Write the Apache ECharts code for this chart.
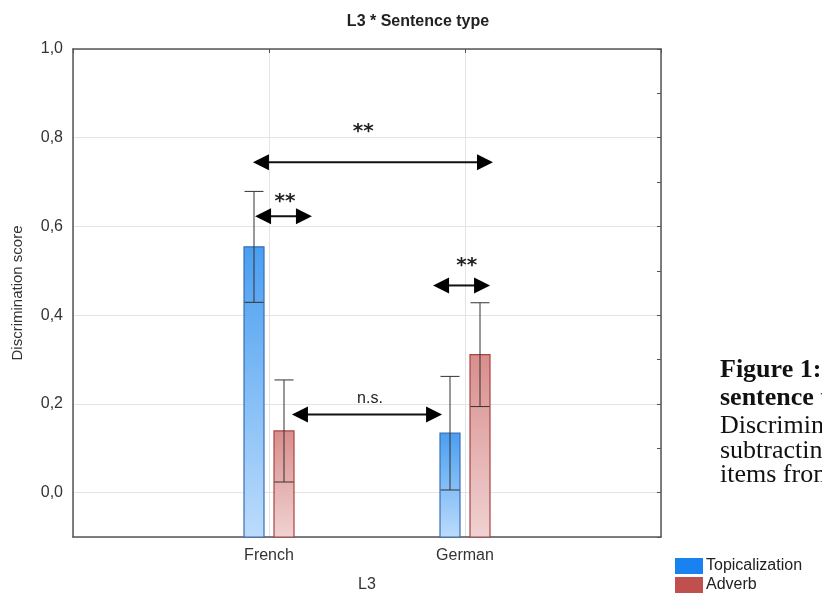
<!DOCTYPE html>
<html>
<head>
<meta charset="utf-8">
<script src="https://cdn.jsdelivr.net/npm/echarts@6/dist/echarts.min.js"></script>
<style>
  html, body { margin: 0; padding: 0; background: #fff; }
  #chart { width: 822px; height: 594px; }
</style>
</head>
<body>
<div id="chart"></div>
<script>
// categories and their x positions on the value axis (0..3)
var groups = ['French', 'German'];
var groupPos = [1, 2];

// means and error bar half widths
var topicMean = [0.554, 0.134];
var topicErr = [0.125, 0.128];
var adverbMean = [0.139, 0.311];
var adverbErr = [0.115, 0.117];

// significance arrows (x from, x to, y) and their labels
var arrowFrom = [0.918, 0.929, 1.117, 1.837];
var arrowTo = [2.143, 1.219, 1.883, 2.128];
var arrowY = [0.745, 0.623, 0.176, 0.467];
var labelX = [1.481, 1.082, 1.515, 2.009];
var labelY = [0.813, 0.655, 0.212, 0.512];
var labelText = ['**', '**', 'n.s.', '**'];

var yMin = -0.1;
var yMax = 1.0;

var chart = echarts.init(document.getElementById('chart'));

function barSeries(name, means, errs, offset, colTop, colBottom, border, legendColor) {
  var data = [];
  for (var i = 0; i < groups.length; i++) {
    data.push([groupPos[i], means[i], errs[i]]);
  }
  return {
    name: name,
    type: 'custom',
    itemStyle: { color: legendColor },
    data: data,
    renderItem: function (params, api) {
      var x = api.value(0);
      var m = api.value(1);
      var e = api.value(2);
      var top = api.coord([x, m]);
      var base = api.coord([x, yMin]);
      var hi = api.coord([x, m + e]);
      var lo = api.coord([x, m - e]);
      var cx = top[0] + offset;
      var w = 20;
      return {
        type: 'group',
        children: [
          {
            type: 'rect',
            shape: { x: cx - w / 2, y: top[1], width: w, height: base[1] - top[1] },
            style: {
              fill: new echarts.graphic.LinearGradient(0, 0, 0, 1, [
                { offset: 0, color: colTop },
                { offset: 1, color: colBottom }
              ]),
              stroke: border,
              lineWidth: 1.2
            }
          },
          { type: 'line', shape: { x1: cx, y1: hi[1], x2: cx, y2: lo[1] }, style: { stroke: '#333', lineWidth: 1 } },
          { type: 'line', shape: { x1: cx - 9.5, y1: hi[1], x2: cx + 9.5, y2: hi[1] }, style: { stroke: '#333', lineWidth: 1 } },
          { type: 'line', shape: { x1: cx - 9.5, y1: lo[1], x2: cx + 9.5, y2: lo[1] }, style: { stroke: '#333', lineWidth: 1 } }
        ]
      };
    }
  };
}

var arrowData = [];
for (var i = 0; i < arrowFrom.length; i++) {
  arrowData.push([arrowFrom[i], arrowTo[i], arrowY[i]]);
}
var labelData = [];
for (var j = 0; j < labelText.length; j++) {
  labelData.push([labelX[j], labelY[j], labelText[j]]);
}

var captionFont = '26px "Liberation Serif"';
var captionBold = 'bold 26px "Liberation Serif"';

var option = {
  animation: false,
  backgroundColor: '#fff',
  title: {
    text: 'L3 * Sentence type',
    left: 413,
    top: 9,
    textAlign: 'center',
    textStyle: { fontFamily: 'Liberation Sans', fontSize: 16, fontWeight: 'bold', color: '#222' }
  },
  legend: {
    data: ['Topicalization', 'Adverb'],
    orient: 'vertical',
    left: 675,
    top: 558,
    padding: 0,
    itemWidth: 28,
    itemHeight: 16,
    itemGap: 3,
    icon: 'rect',
    textStyle: { fontFamily: 'Liberation Sans', fontSize: 16, color: '#222', padding: [0, 0, 0, -2] }
  },
  grid: { left: 73, right: 161, top: 49, bottom: 57, outerBoundsMode: 'none' },
  xAxis: [
    {
      type: 'value',
      min: 0,
      max: 3,
      interval: 1,
      name: 'L3',
      nameLocation: 'middle',
      nameGap: 40,
      nameTextStyle: { fontFamily: 'Liberation Sans', fontSize: 16, color: '#333' },
      axisLine: { show: true, onZero: false, lineStyle: { color: '#555', width: 1.5 } },
      axisTick: { show: false },
      axisLabel: {
        margin: 11,
        fontFamily: 'Liberation Sans',
        fontSize: 16,
        color: '#333',
        formatter: function (v) {
          var k = groupPos.indexOf(v);
          return k >= 0 ? groups[k] : '';
        }
      },
      splitLine: { show: true, lineStyle: { color: '#e4e4e4' } }
    },
    {
      type: 'value',
      position: 'top',
      min: 0,
      max: 3,
      interval: 1,
      axisLine: { show: true, onZero: false, lineStyle: { color: '#555', width: 1.5 } },
      axisTick: { show: true, inside: true, length: 4, lineStyle: { color: '#555' } },
      axisLabel: { show: false },
      splitLine: { show: false }
    }
  ],
  yAxis: [
    {
      type: 'value',
      min: yMin,
      max: yMax,
      splitNumber: 5,
      name: 'Discrimination score',
      nameLocation: 'middle',
      nameGap: 48,
      nameTextStyle: { fontFamily: 'Liberation Sans', fontSize: 15, color: '#333' },
      axisLine: { show: true, onZero: false, lineStyle: { color: '#555', width: 1.5 } },
      axisTick: { show: false },
      axisLabel: {
        margin: 10,
        fontFamily: 'Liberation Sans',
        fontSize: 16,
        color: '#333',
        formatter: function (v) {
          if (v < -0.05) return '';
          return v.toFixed(1).replace('.', ',');
        }
      },
      splitLine: { show: true, lineStyle: { color: '#e4e4e4' } }
    },
    {
      type: 'value',
      position: 'right',
      min: yMin,
      max: yMax,
      splitNumber: 10,
      axisLine: { show: true, onZero: false, lineStyle: { color: '#555', width: 1.5 } },
      axisTick: { show: true, inside: true, length: 4, lineStyle: { color: '#555' } },
      axisLabel: { show: false },
      splitLine: { show: false }
    }
  ],
  graphic: [
    { type: 'text', left: 720, top: 357, style: { text: 'Figure 1:', font: captionBold, fill: '#111' } },
    { type: 'text', left: 720, top: 385, style: { text: 'sentence type', font: captionBold, fill: '#111' } },
    { type: 'text', left: 720, top: 413, style: { text: 'Discrimination', font: captionFont, fill: '#111' } },
    { type: 'text', left: 720, top: 438, style: { text: 'subtracting', font: captionFont, fill: '#111' } },
    { type: 'text', left: 720, top: 462, style: { text: 'items from', font: captionFont, fill: '#111' } }
  ],
  series: [
    barSeries('Topicalization', topicMean, topicErr, -15, '#4a9ef0', '#bcdcfc', '#3a6fb5', '#1a82f0'),
    barSeries('Adverb', adverbMean, adverbErr, 15, '#d98e8d', '#f0d2d2', '#a84442', '#c0504d'),
    {
      // double headed arrows
      type: 'custom',
      silent: true,
      data: arrowData,
      renderItem: function (params, api) {
        var a = api.coord([api.value(0), api.value(2)]);
        var b = api.coord([api.value(1), api.value(2)]);
        var len = 16, half = 8;
        return {
          type: 'group',
          children: [
            { type: 'line', shape: { x1: a[0] + len - 2, y1: a[1], x2: b[0] - len + 2, y2: b[1] }, style: { stroke: '#111', lineWidth: 2 } },
            { type: 'polygon', shape: { points: [[a[0], a[1]], [a[0] + len, a[1] - half], [a[0] + len, a[1] + half]] }, style: { fill: '#000' } },
            { type: 'polygon', shape: { points: [[b[0], b[1]], [b[0] - len, b[1] - half], [b[0] - len, b[1] + half]] }, style: { fill: '#000' } }
          ]
        };
      }
    },
    {
      // significance labels
      type: 'custom',
      silent: true,
      data: labelData,
      renderItem: function (params, api) {
        var p = api.coord([api.value(0), api.value(1)]);
        var t = labelText[params.dataIndex];
        var star = t === '**';
        return {
          type: 'text',
          x: p[0],
          y: p[1],
          style: {
            text: t,
            font: star ? 'bold 20px "DejaVu Sans"' : '16px "Liberation Sans"',
            fill: '#222',
            align: 'center',
            verticalAlign: 'middle'
          }
        };
      }
    }
  ]
};

chart.setOption(option);
</script>
</body>
</html>
